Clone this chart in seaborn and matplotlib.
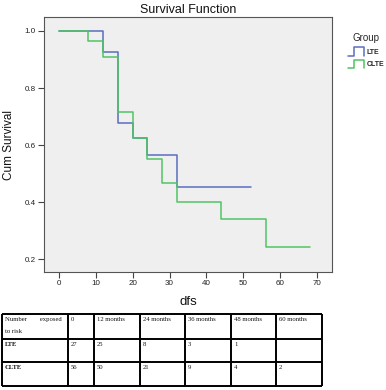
import matplotlib
matplotlib.use('Agg')
import matplotlib.pyplot as plt
from matplotlib.legend_handler import HandlerBase
from matplotlib.lines import Line2D
import numpy as np
import pandas as pd
import seaborn as sns

# Kaplan-Meier steps
lte_time = [0, 12, 16, 20, 24, 32, 52]
lte_surv = [1.0, 0.926, 0.679, 0.626, 0.564, 0.452, 0.452]
clte_time = [0, 8, 12, 16, 20, 24, 28, 32, 44, 56, 68]
clte_surv = [1.0, 0.965, 0.910, 0.715, 0.626, 0.552, 0.467, 0.401, 0.340, 0.243, 0.243]

groups = ['LTE', 'CLTE']
group_colors = ['#5a6fc0', '#4fc463']
x_ticks = [0, 10, 20, 30, 40, 50, 60, 70]
y_ticks = [0.2, 0.4, 0.6, 0.8, 1.0]

# number at risk table
risk_header = ['Number        exposed\nto risk', '0', '12 months', '24 months',
               '36 months', '48 months', '60 months']
risk_lte = ['LTE', '27', '25', '8', '3', '1', '']
risk_clte = ['CLTE', '56', '50', '21', '9', '4', '2']
col_widths = [66, 26, 46, 45, 46, 45, 46]
row_heights = [25, 23, 24]


class StepHandler(HandlerBase):
  def create_artists(self, legend, orig_handle, xdescent, ydescent,
                     width, height, fontsize, trans):
    x0, y0 = -xdescent, -ydescent
    xs = [x0, x0 + 0.4 * width, x0 + 0.4 * width, x0 + width, x0 + width]
    ys = [y0, y0, y0 + height, y0 + height, y0]
    line = Line2D(xs, ys, color=orig_handle.get_color(),
                  lw=orig_handle.get_linewidth(), transform=trans)
    return [line]


def main():
  sns.set_theme(style='white')
  plt.rcParams['font.family'] = ['Liberation Sans', 'DejaVu Sans']

  df = pd.concat([
    pd.DataFrame({'time': lte_time, 'surv': lte_surv, 'group': 'LTE'}),
    pd.DataFrame({'time': clte_time, 'surv': clte_surv, 'group': 'CLTE'}),
  ])

  fig = plt.figure(figsize=(3.86, 3.90), dpi=100)
  ax = fig.add_axes([44 / 386, 1 - 272 / 390, 288 / 386, 255 / 390])
  ax.set_facecolor('#efefef')

  sns.lineplot(data=df, x='time', y='surv', hue='group', hue_order=groups,
               palette=dict(zip(groups, group_colors)), drawstyle='steps-post',
               estimator=None, linewidth=1.1, legend=False, ax=ax)

  ax.set_xlim(-4, 74)
  ax.set_ylim(0.156, 1.049)
  ax.set_xticks(x_ticks)
  ax.set_yticks(y_ticks)
  ax.set_yticklabels(['{:.1f}'.format(v) for v in y_ticks])
  ax.tick_params(direction='out', length=4, width=0.8, pad=2,
                 labelsize=5.8, color='#444444', labelcolor='#222222',
                 bottom=True, left=True)
  for sp in ax.spines.values():
    sp.set_color('#555555')
    sp.set_linewidth(0.8)

  ax.set_title('Survival Function', fontsize=9, pad=3, color='#111111')
  ax.set_xlabel('dfs', fontsize=9.5, color='#111111')
  ax.set_ylabel('Cum Survival', fontsize=8.5, color='#111111')
  ax.xaxis.set_label_coords(0.5, -0.095)
  ax.yaxis.set_label_coords(-0.10, 0.5)

  handles = [Line2D([], [], color=c, lw=1.1) for c in group_colors]
  fig.legend(handles, groups, title='Group', loc='upper left',
             bbox_to_anchor=(343 / 386, 1 - 28 / 390), frameon=False,
             prop={'size': 5, 'weight': 'bold'}, title_fontsize=7,
             handlelength=2.3, handleheight=1.5, handletextpad=0.4,
             labelspacing=0.6, borderpad=0.2, alignment='center',
             handler_map={Line2D: StepHandler()})

  # number at risk table
  tab = fig.add_axes([2 / 386, 4 / 390, sum(col_widths) / 386, sum(row_heights) / 390])
  tab.axis('off')
  tab.set_xlim(0, sum(col_widths))
  tab.set_ylim(sum(row_heights), 0)
  xs = np.concatenate([[0], np.cumsum(col_widths)])
  ys = np.concatenate([[0], np.cumsum(row_heights)])
  tab.vlines(xs, 0, ys[-1], color='black', lw=1.4, clip_on=False)
  tab.hlines(ys, 0, xs[-1], color='black', lw=1.4, clip_on=False)
  for r, row in enumerate([risk_header, risk_lte, risk_clte]):
    for c, txt in enumerate(row):
      weight = 'bold' if (c == 0 and r > 0) else 'normal'
      tab.text(xs[c] + 3, ys[r] + 3, txt, ha='left', va='top',
               fontsize=4.8, family=['Liberation Serif', 'DejaVu Serif'],
               weight=weight, linespacing=2.8, color='#111111')

  fig.savefig('out.png', dpi=100, facecolor='white')


if __name__ == '__main__':
  main()
